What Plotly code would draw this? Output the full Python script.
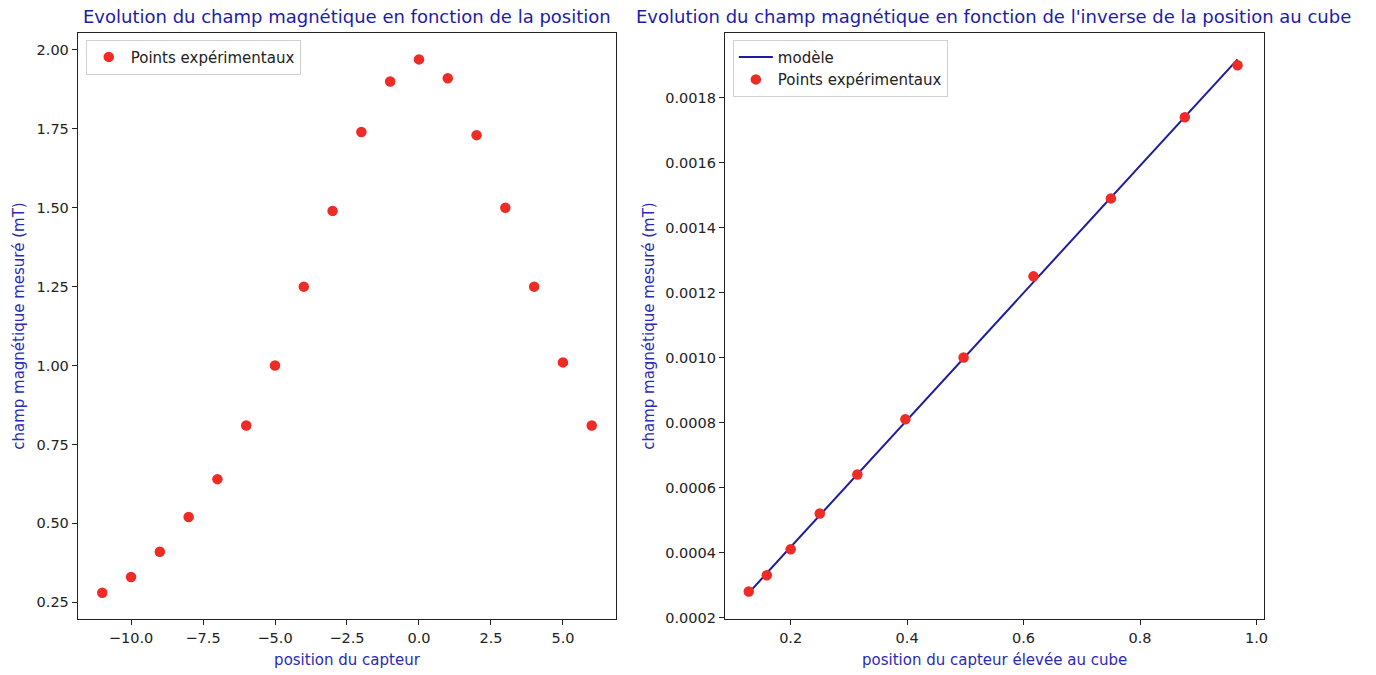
import plotly.graph_objects as go

# ---- data ----
positions = [-11, -10, -9, -8, -7, -6, -5, -4, -3, -2, -1, 0, 1, 2, 3, 4, 5, 6]
champ_mT = [0.28, 0.33, 0.41, 0.52, 0.64, 0.81, 1.00, 1.25, 1.49, 1.74, 1.90, 1.97,
            1.91, 1.73, 1.50, 1.25, 1.01, 0.81]

pos_cube = [0.128, 0.159, 0.200, 0.250, 0.3145, 0.397, 0.497, 0.617, 0.750, 0.877, 0.9675]
champ_cube = [0.00028, 0.00033, 0.00041, 0.00052, 0.00064, 0.00081, 0.00100,
              0.00125, 0.00149, 0.00174, 0.00190]

model_x = [0.128, 0.9675]
model_y = [0.000276, 0.001918]

left_xticks = [-10.0, -7.5, -5.0, -2.5, 0.0, 2.5, 5.0]
left_yticks = [0.25, 0.50, 0.75, 1.00, 1.25, 1.50, 1.75, 2.00]
right_xticks = [0.2, 0.4, 0.6, 0.8, 1.0]
right_yticks = [0.0002, 0.0004, 0.0006, 0.0008, 0.0010, 0.0012, 0.0014, 0.0016, 0.0018]

# ---- style ----
W, H = 1376, 675
RED = "#ee2b24"
LINE = "#1c1c9c"
TITLE_C = "#1c1ca8"
LABEL_C = "#2a2ab4"
FONT = "DejaVu Sans"
TICK = 14.5
LAB = 15
TIT = 18

def px_x(p):
    return p / W

def px_y(p):
    return 1 - p / H

fig = go.Figure()

fig.add_trace(go.Scatter(
    x=positions, y=champ_mT, mode="markers", name="Points expérimentaux",
    marker=dict(color=RED, size=10.5), xaxis="x", yaxis="y", legend="legend"))

fig.add_trace(go.Scatter(
    x=model_x, y=model_y, mode="lines", name="modèle",
    line=dict(color=LINE, width=2), xaxis="x2", yaxis="y2", legend="legend2"))

fig.add_trace(go.Scatter(
    x=pos_cube, y=champ_cube, mode="markers", name="Points expérimentaux",
    marker=dict(color=RED, size=10.5), xaxis="x2", yaxis="y2", legend="legend2"))

axis_common = dict(
    showline=True, linecolor="#222", linewidth=1, mirror=True,
    ticks="outside", ticklen=5, tickcolor="#222", showgrid=False, zeroline=False,
    tickfont=dict(family=FONT, size=TICK, color="#222"),
)

ydom = [px_y(625), px_y(33)]

fig.update_layout(
    width=W, height=H, margin=dict(l=0, r=0, t=0, b=0),
    paper_bgcolor="white", plot_bgcolor="white",
    font=dict(family=FONT, size=TICK, color="#222"),
    xaxis=dict(domain=[px_x(78), px_x(618)], range=[-11.85, 6.85],
               tickvals=left_xticks, tickformat=".1f", anchor="y",
               title=dict(text="position du capteur", font=dict(color=LABEL_C, size=LAB), standoff=9),
               **axis_common),
    yaxis=dict(domain=ydom, range=[0.1955, 2.0545], tickvals=left_yticks,
               tickformat=".2f", anchor="x",
               title=dict(text="champ magnétique mesuré (mT)", font=dict(color=LABEL_C, size=LAB), standoff=8),
               **axis_common),
    xaxis2=dict(domain=[px_x(727), px_x(1268)], range=[0.087, 1.0135],
                tickvals=right_xticks, tickformat=".1f", anchor="y2",
                title=dict(text="position du capteur élevée au cube", font=dict(color=LABEL_C, size=LAB), standoff=9),
                **axis_common),
    yaxis2=dict(domain=ydom, range=[0.000194, 0.0020], tickvals=right_yticks,
                tickformat=".4f", anchor="x2",
                title=dict(text="champ magnétique mesuré (mT)", font=dict(color=LABEL_C, size=LAB), standoff=6),
                **axis_common),
    legend=dict(x=px_x(86), y=px_y(40), xanchor="left", yanchor="top",
                bordercolor="#d0d0d0", borderwidth=1, bgcolor="white",
                font=dict(family=FONT, size=LAB, color="#222"), itemwidth=34),
    legend2=dict(x=px_x(735), y=px_y(40), xanchor="left", yanchor="top",
                 bordercolor="#d0d0d0", borderwidth=1, bgcolor="white",
                 font=dict(family=FONT, size=LAB, color="#222"), itemwidth=34,
                 tracegroupgap=0),
    showlegend=True,
    annotations=[
        dict(text="Evolution du champ magnétique en fonction de la position",
             x=px_x(348), y=px_y(17), xref="paper", yref="paper",
             xanchor="center", yanchor="middle", showarrow=False,
             font=dict(family=FONT, size=TIT, color=TITLE_C)),
        dict(text="Evolution du champ magnétique en fonction de l'inverse de la position au cube",
             x=px_x(996), y=px_y(17), xref="paper", yref="paper",
             xanchor="center", yanchor="middle", showarrow=False,
             font=dict(family=FONT, size=TIT, color=TITLE_C)),
    ],
)

fig.write_html("out.html")
